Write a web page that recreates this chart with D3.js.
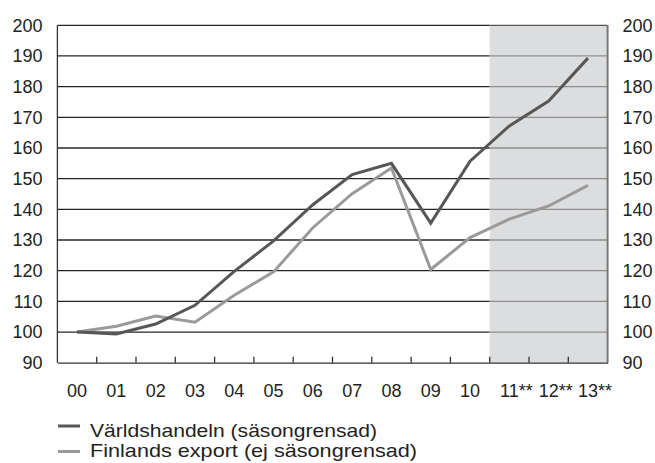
<!DOCTYPE html>
<html>
<head>
<meta charset="utf-8">
<script src="https://cdn.jsdelivr.net/npm/d3@7"></script>
<style>
  body { margin: 0; background: #fff; }
  text { font-family: "Liberation Sans", Arial, sans-serif; fill: #222; }
</style>
</head>
<body>
<script>
const years = ["00", "01", "02", "03", "04", "05", "06", "07", "08", "09", "10", "11**", "12**", "13**"];
const forecastFrom = "11**";
const worldTrade = [100, 99.4, 102.6, 108.7, 119.8, 129.7, 141.5, 151.3, 155, 135.5, 155.7, 167.2, 175.3, 189.3];
const finlandExport = [100, 101.9, 105.2, 103.2, 112, 119.6, 134, 145.1, 153.5, 120.4, 130.8, 136.8, 141.1, 147.8];
const yTicks = [90, 100, 110, 120, 130, 140, 150, 160, 170, 180, 190, 200];
const seriesNames = ["Världshandeln (säsongrensad)", "Finlands export (ej säsongrensad)"];

const width = 655, height = 463;
const margin = {left: 57.4, right: 47.4, top: 25.3, bottom: 100.3};

const svg = d3.select("body").append("svg")
    .attr("width", width)
    .attr("height", height);

const x = d3.scaleBand()
    .domain(years)
    .range([margin.left, width - margin.right]);

const y = d3.scaleLinear()
    .domain([90, 200])
    .range([height - margin.bottom, margin.top]);

// forecast shading
const shadeX = x(forecastFrom);
svg.append("rect")
    .attr("x", shadeX)
    .attr("y", y(200))
    .attr("width", x.range()[1] - shadeX)
    .attr("height", y(90) - y(200))
    .attr("fill", "#dcdddf");

// gridlines
const grid = svg.append("g");
grid.selectAll(".grid-a")
    .data(yTicks.filter(d => d > 90))
    .enter().append("line")
    .attr("x1", margin.left)
    .attr("x2", shadeX)
    .attr("y1", d => y(d))
    .attr("y2", d => y(d))
    .attr("stroke", "#262626")
    .attr("stroke-width", 1.3);
grid.selectAll(".grid-b")
    .data(yTicks.filter(d => d > 90))
    .enter().append("line")
    .attr("x1", shadeX)
    .attr("x2", x.range()[1])
    .attr("y1", d => y(d))
    .attr("y2", d => y(d))
    .attr("stroke", d => d == 200 ? "#555" : "#8f8f8f")
    .attr("stroke-width", 1.3);

// frame
svg.append("line")
    .attr("x1", margin.left).attr("x2", margin.left)
    .attr("y1", y(200)).attr("y2", y(90))
    .attr("stroke", "#333").attr("stroke-width", 1.3);
svg.append("line")
    .attr("x1", x.range()[1]).attr("x2", x.range()[1])
    .attr("y1", y(200)).attr("y2", y(90))
    .attr("stroke", "#777").attr("stroke-width", 2);

// x axis with inward ticks
const xAxis = svg.append("g")
    .attr("transform", `translate(0,${y(90)})`)
    .call(d3.axisBottom(x).tickSize(0).tickPadding(22));
xAxis.select(".domain").attr("stroke", "#333").attr("stroke-width", 1.3);
xAxis.selectAll("text")
    .attr("font-size", 18)
    .attr("font-family", "Liberation Sans, Arial, sans-serif")
    .attr("fill", "#222")
    .attr("dx", d => d.includes("*") ? 7 : 0);

svg.append("g").selectAll("line")
    .data(years.slice(1))
    .enter().append("line")
    .attr("x1", d => x(d)).attr("x2", d => x(d))
    .attr("y1", y(90)).attr("y2", y(90) - 6)
    .attr("stroke", "#333").attr("stroke-width", 1.3);

// y labels both sides
svg.append("g").selectAll("text")
    .data(yTicks)
    .enter().append("text")
    .attr("x", 42.5)
    .attr("y", d => y(d))
    .attr("dy", "0.35em")
    .attr("text-anchor", "end")
    .attr("font-size", 18)
    .text(d => d);

svg.append("g").selectAll("text")
    .data(yTicks)
    .enter().append("text")
    .attr("x", 622.5)
    .attr("y", d => y(d))
    .attr("dy", "0.35em")
    .attr("font-size", 18)
    .text(d => d);

// lines
const line = d3.line()
    .x((d, i) => x(years[i]) + x.bandwidth() / 2)
    .y(d => y(d));

svg.append("path")
    .datum(finlandExport)
    .attr("d", line)
    .attr("fill", "none")
    .attr("stroke", "#9a9a9a")
    .attr("stroke-width", 3);

svg.append("path")
    .datum(worldTrade)
    .attr("d", line)
    .attr("fill", "none")
    .attr("stroke", "#575757")
    .attr("stroke-width", 3);

// legend
const legendColors = ["#575757", "#9a9a9a"];
const legendWidths = [287, 327];
const legend = svg.append("g").selectAll("g")
    .data(seriesNames)
    .enter().append("g");
legend.append("line")
    .attr("x1", 58).attr("x2", 80)
    .attr("y1", (d, i) => 426 + i * 25.5)
    .attr("y2", (d, i) => 426 + i * 25.5)
    .attr("stroke", (d, i) => legendColors[i])
    .attr("stroke-width", 3);
legend.append("text")
    .attr("x", 90)
    .attr("y", (d, i) => 437 + i * 20.3)
    .attr("font-size", 19)
    .attr("textLength", (d, i) => legendWidths[i])
    .attr("lengthAdjust", "spacingAndGlyphs")
    .text(d => d);
</script>
</body>
</html>
